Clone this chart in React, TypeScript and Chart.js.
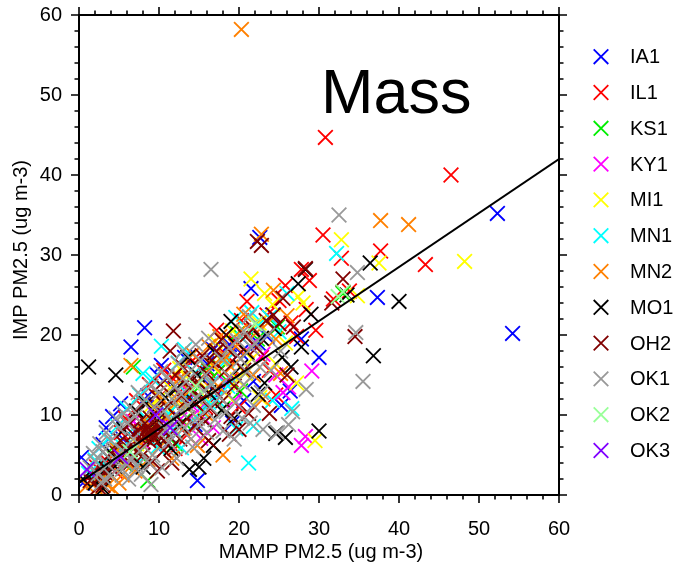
import React, { useEffect, useRef } from "react";
import { Chart, registerables } from "chart.js";

Chart.register(...registerables);

const SITE_LABELS = ["IA1", "IL1", "KS1", "KY1", "MI1", "MN1", "MN2", "MO1", "OH2", "OK1", "OK2", "OK3"];
const SITE_COLORS = ["#0000ff", "#ff0000", "#00ee00", "#ff00ff", "#ffff00", "#00ffff", "#ff8000", "#000000", "#800000", "#999999", "#99ff99", "#8000ff"];

const IA1 = [[52.3,35.2],[54.2,20.2],[37.3,24.7],[30,17.2],[21.5,25.8],[22.6,32.2],[8.2,20.9],[6.5,18.5],[0.3,4.7],[14.8,1.8],[25.3,11.2],[10.3,16.2],[4.2,9.8],[9.8,15],[11.5,13.5],[13.2,17.2],[18.8,18.8],[3,6.3],[2.2,2.8],[5.5,7],[7.5,8.5],[12.2,10],[15.5,14.5],[17.3,12.5],[20.2,17.8],[23.5,19.8],[16.8,18.2],[19.2,9],[6.8,4.8],[9.5,11.2],[24.2,22.5],[14.5,8.8],[21.8,14.2],[0.5,1.5],[11,6.4],[27.8,19.5],[13.8,11.9],[16,16.4],[18.4,14],[12.6,14.6],[8.6,12.4],[5.2,11.4],[3.4,8.4],[20.6,11.8],[26.4,13],[22.4,19]];
const IL1 = [[30.8,44.7],[46.5,40],[43.3,28.8],[37.7,30.5],[30.5,32.5],[32.8,29.6],[31.8,24.5],[27.8,28.2],[25,24.3],[28.4,23.2],[27.2,19.8],[24.6,12.5],[23.5,22.5],[21.8,20.5],[20.3,21.8],[18.5,17.4],[16.2,15.5],[14.2,16.8],[12.5,12.8],[10.8,9.5],[9.2,10.8],[7.8,8],[6.5,6.2],[5.3,7.8],[3.5,4.2],[2.2,3.5],[4.5,3],[8.8,13.8],[11.8,14.5],[13.5,7.5],[15.8,11],[17.8,15.8],[19.5,19.2],[22.8,17.2],[26.5,21.5],[21,24.2],[10,12.2],[1.5,2.5],[33.8,25.5],[28.8,26.8],[12,5.8],[14.6,13.6],[16.8,12.2],[19,14.4],[20,11],[23.8,15.6],[10.6,15.6],[7.2,11.8],[5.8,9.6],[17.2,20.6],[25.8,26.2],[29.6,20.6]];
const KS1 = [[6.8,16],[8.6,1.8],[20.2,13],[11.5,10.5],[4.5,6.2],[14.3,12.8],[17.4,15.4],[9.2,7.5],[2.8,2.2],[13,9.2],[18,10.8],[22.3,19.5],[24.8,21],[16,15.9],[7.4,5.2],[5.8,3.8],[10.5,8.3],[19.8,20.2],[33,25.2],[12,6.4]];
const KY1 = [[27.8,6.2],[29.1,15.5],[28.3,7.3],[24.6,15],[26.2,13.5],[25.5,12.8],[19.4,11.8],[14.8,10.5],[10.4,8.6],[8,6.6],[12.6,9.4],[16.8,8.4],[21.4,18.6],[5.6,5.4],[3.8,3.6],[18.2,14.2],[23,17.6],[13.4,13.2],[15.2,7.1],[6.8,9.2]];
const MI1 = [[48.2,29.2],[32.8,31.9],[21.5,27],[37.5,29],[28,24],[27.2,14],[34.8,24.9],[29.5,6.8],[22.5,21.5],[23.2,25.2],[19.2,20.5],[17.6,17],[15.8,13.4],[13.4,14.8],[12.2,11.6],[10.8,10.2],[9.6,8.9],[8.4,7.6],[7.2,6.4],[6,5.3],[4.6,4.6],[3.4,3],[14.6,9.8],[18.6,12.4],[20.8,15.2],[25.8,19],[11.4,13.4],[16.7,16.1],[24.2,23.8],[9,11.2],[13.6,10.8],[16,12],[17,19.2],[19.8,14.4],[21.6,17],[22.6,12.2],[12.6,15.8],[10.2,12.2],[24.6,16.4],[27.4,24.8]];
const MN1 = [[32.2,30.2],[21.2,4],[10.3,18.6],[26,25.2],[19.6,8.3],[14.5,15.3],[12.4,16.5],[9.2,14.5],[7.6,12.5],[6,10.8],[4.8,8.6],[3.6,7],[2.5,5.8],[2,4.4],[1.2,2.7],[5.5,6],[8.5,9.5],[11.2,10.2],[13.6,12.6],[16.5,14],[18.4,16.8],[20.5,19.5],[22.4,21.2],[23.8,22.2],[25,20.4],[17.2,12],[15.4,10.4],[24.2,11.8],[3,4],[6.8,8.3],[21.6,22.8],[12.8,5.9],[7.6,4.2],[9.8,6],[11.8,8.2],[14,9.2],[16.2,11.6],[18.6,13.6],[19.6,22.2],[21.8,8.6],[26.6,10.8],[8,15.2],[13.2,18.2]];
const MN2 = [[20.3,58.2],[41.2,33.8],[37.7,34.3],[22.8,32.6],[24.3,25.6],[6.5,16.2],[18,5],[2.5,0.5],[3.6,1.2],[4.2,0.8],[1.8,1.6],[5.4,2.5],[3.1,2.2],[6,4.2],[7.8,6.4],[9.5,8],[11,9.6],[12.4,11.8],[13.8,13],[15.2,14.6],[16.8,16.2],[18.4,17.2],[19.6,18.6],[21,18],[22.2,20.3],[23.6,21.5],[24.6,19.5],[17.4,13.6],[15.8,10.2],[13,8.3],[10.2,6.1],[8.6,4.4],[4.8,5.6],[20.2,20.5],[26,22.4],[14.2,17.6],[25.2,15.2],[19,16],[1,1.2],[5,1.5],[7,3],[8.2,9.4],[10.6,11.8],[12.6,14.6],[16.2,18.6],[17.6,19.8],[20.6,22.6],[21.8,15],[23,12],[14.8,6.2],[11.6,4.6]];
const MO1 = [[1.2,16],[4.6,15],[40,24.2],[36.8,17.4],[36.4,29],[30,8],[25.8,7.2],[24.6,7.7],[19,21.7],[28.3,28.2],[13.8,3.2],[15,3.5],[27.8,18.5],[33.5,25],[0.5,2],[2,1.5],[3.4,3.3],[4.5,3.6],[6.2,5.2],[7.2,10.5],[8.4,11.4],[9.4,7.2],[10.8,12.2],[12.2,13.3],[13.6,17.2],[14.8,15],[16.2,12.8],[17.8,10.6],[19.4,9.6],[20.2,16],[22.4,12.6],[23.2,14],[25.4,17.2],[26.5,16],[11.5,5.8],[8,3.5],[21,17.8],[18.4,20],[5.6,8.2],[16.8,6.2],[4,5.2],[9.8,9.4],[12.6,8.8],[14.4,11.6],[17,17.8],[22.8,19.6],[24.4,20.8],[27.4,26.4],[29,22.6],[15.6,4.6],[3,0.8]];
const OH2 = [[22.3,31.7],[28.3,28.3],[34.5,19.8],[33,27],[11.8,20.5],[22.8,31.2],[31.6,24],[26.8,21],[24.3,22.5],[25.5,24.6],[8.5,7.5],[8.8,7.8],[8.2,7.2],[9,8.2],[7.8,7],[8.6,8.6],[9.4,7],[7.4,8],[10,9],[6.6,6.2],[5.8,5.6],[5,4.5],[4,3.4],[3.2,2.8],[2.6,2.2],[2,3],[1.4,1.8],[6.2,8.8],[7,10.4],[8,11.6],[9.6,12.4],[11,11],[12.2,9.8],[13.2,11.6],[14,14.6],[15,14],[16,15.2],[16.6,16.8],[17.2,18],[17.8,19.4],[18.6,18.2],[19.8,17.4],[20.6,15.6],[21.2,10.2],[19,9.8],[16.4,10.8],[14.4,8.6],[12.6,7],[10.6,5.6],[9.2,4.2],[11.6,4],[15.4,12],[13.8,13.4],[12,15],[10.2,13.8],[18.2,15.4],[23.4,21.8],[25,21.4],[7.6,9.2],[8.9,9.6],[9.8,10.6],[10.4,8.2],[11.2,7.4],[7.2,5.4],[6.4,4],[5.2,6.8],[4.4,5.6],[3.6,4.8],[12.8,12.4],[13.6,9.6],[14.6,11.4],[15.8,9.2],[17,13],[18,11.8],[19.4,13.6],[20.8,19.8],[21.6,21],[22.2,18.4],[15.4,17.4],[13,16],[11.4,18],[16.2,6.8],[18.8,7.6],[20,8.2],[23.8,10.2],[26,15],[9.8,3],[3,1.2],[2.4,1],[8,5],[6.8,7.6],[8.3,8],[9.2,7.8],[8.7,6.8],[9.7,8.4],[7.9,7.6],[10.3,7.1]];
const OK1 = [[32.5,35],[34.8,27.8],[35.5,14.2],[34.6,20.3],[16.5,28.2],[9,1.3],[24.8,7.8],[26.7,10.4],[28.4,13.2],[20.6,20.5],[21.3,22.3],[19.8,19.3],[22,19],[13,18],[14.6,18.8],[12.4,16.4],[11,14.8],[10,12.8],[9,13.6],[8,11.6],[7,9.8],[6,9],[5,8.4],[4,6.8],[3,5.4],[2,4.2],[1.4,3.4],[2.8,1.5],[4,2.4],[5.4,3.2],[6.6,4.5],[7.6,5.5],[10.8,8.2],[11.6,9.2],[12.6,10.6],[13.6,11.2],[14.6,12.2],[15.6,13],[16.6,13.8],[17.6,12.2],[18.4,10.4],[19.6,11.6],[20.6,13.8],[21.4,9],[23,8.2],[16,7.8],[14.2,6],[12.2,4.6],[10.4,3.4],[7.8,2.6],[6.2,2],[11.6,12],[13.4,14.2],[15.2,16.8],[17.8,17],[18.8,14.8],[3.6,3.8],[10.6,10.4],[12.8,12.6],[14.8,9.6],[16.4,11],[6.8,7],[5.4,5.6],[9.2,5],[20.2,17],[22.6,16],[2.4,2.6],[3.2,2],[4.6,4.4],[5.8,4],[7.2,3.6],[8.8,4],[11.2,6.6],[12,7.8],[13.2,8.4],[14,7],[15,8.8],[17,9.4],[18,8],[19.4,7],[20.4,9.6],[21.8,11.2],[22.8,12.8],[24,15.6],[25.2,18],[23.6,20],[21,15.4],[18.8,18.4],[16.2,19.6],[15.8,15],[14,15.6],[12,13.6],[10.2,15.4],[9.4,11],[7.4,12.8],[6.4,11],[5.6,10.2],[4.6,9.6],[3.4,7.8],[2.6,6.4],[1.8,5.2],[26.2,8.8],[21.6,18.4]];
const OK2 = [[33,25.4],[32.4,24.8],[22,21.4],[14.6,13.6],[6.4,5.4]];
const OK3 = [[1,3.2],[5.2,4.8],[11.4,8.4],[9.6,10]];

const SITE_DATA = [IA1, IL1, KS1, KY1, MI1, MN1, MN2, MO1, OH2, OK1, OK2, OK3];

const FIT_LINE = [[0, 1.5], [60, 42]];
const TICK_MIN = 0;
const TICK_MAX = 60;
const MAJOR_STEP = 10;
const MINOR_STEP = 2;

const TITLE = "Mass";
const X_TITLE = "MAMP PM2.5 (ug m-3)";
const Y_TITLE = "IMP PM2.5 (ug m-3)";

const FONT = "'Liberation Sans', Arial, sans-serif";

function drawCross(ctx: CanvasRenderingContext2D, x: number, y: number, h: number) {
  ctx.beginPath();
  ctx.moveTo(x - h, y - h);
  ctx.lineTo(x + h, y + h);
  ctx.moveTo(x - h, y + h);
  ctx.lineTo(x + h, y - h);
  ctx.stroke();
}

const decorPlugin = {
  id: "decor",
  afterDraw(chart: any) {
    const ctx: CanvasRenderingContext2D = chart.ctx;
    const { left, right, top, bottom } = chart.chartArea;
    const xs = chart.scales.x;
    const ys = chart.scales.y;
    ctx.save();
    ctx.strokeStyle = "#000";
    ctx.lineWidth = 2;
    ctx.strokeRect(left, top, right - left, bottom - top);
    ctx.lineWidth = 1.6;
    for (let v = TICK_MIN; v <= TICK_MAX + 1e-9; v += MINOR_STEP) {
      const major = Math.abs(v % MAJOR_STEP) < 1e-9;
      const len = major ? 8 : 4.5;
      const px = xs.getPixelForValue(v);
      const py = ys.getPixelForValue(v);
      ctx.beginPath();
      ctx.moveTo(px, bottom);
      ctx.lineTo(px, bottom + len);
      ctx.moveTo(px, top);
      ctx.lineTo(px, top - len);
      ctx.moveTo(left, py);
      ctx.lineTo(left - len, py);
      ctx.moveTo(right, py);
      ctx.lineTo(right + len, py);
      ctx.stroke();
    }
    ctx.fillStyle = "#000";
    ctx.font = `63px ${FONT}`;
    ctx.textAlign = "left";
    ctx.textBaseline = "alphabetic";
    ctx.fillText(TITLE, xs.getPixelForValue(30.25), ys.getPixelForValue(47.7));
    ctx.font = `20px ${FONT}`;
    ctx.textAlign = "center";
    ctx.textBaseline = "middle";
    ctx.fillText(X_TITLE, (left + right) / 2 + 2, 552);
    ctx.save();
    ctx.translate(21, (top + bottom) / 2 - 5);
    ctx.rotate(-Math.PI / 2);
    ctx.fillText(Y_TITLE, 0, 0);
    ctx.restore();
    ctx.font = `20px ${FONT}`;
    ctx.textAlign = "left";
    ctx.textBaseline = "middle";
    ctx.lineWidth = 1.8;
    SITE_LABELS.forEach((lab, i) => {
      const y = 56.7 + i * 35.8;
      ctx.strokeStyle = SITE_COLORS[i];
      drawCross(ctx, 601, y, 7.3);
      ctx.fillStyle = "#000";
      ctx.fillText(lab, 630, y + 1);
    });
    ctx.restore();
  },
};

export default function App() {
  const ref = useRef<HTMLCanvasElement | null>(null);
  useEffect(() => {
    if (!ref.current) return;
    const datasets: any[] = SITE_DATA.map((arr, i) => ({
      type: "scatter",
      label: SITE_LABELS[i],
      data: arr.map(([x, y]) => ({ x, y })),
      pointStyle: "crossRot",
      pointRadius: 10.4,
      pointBorderWidth: 1.8,
      borderColor: SITE_COLORS[i],
      backgroundColor: SITE_COLORS[i],
      order: 100 - i,
    }));
    datasets.push({
      type: "line",
      label: "fit",
      data: FIT_LINE.map(([x, y]) => ({ x, y })),
      borderColor: "#000",
      borderWidth: 2,
      pointRadius: 0,
      fill: false,
      order: 0,
    });
    const chart = new Chart(ref.current, {
      type: "scatter",
      data: { datasets },
      options: {
        responsive: false,
        animation: false,
        layout: { padding: { left: 0, top: 15, right: 115, bottom: 0 } },
        plugins: { legend: { display: false }, tooltip: { enabled: false } },
        scales: {
          x: {
            type: "linear",
            min: TICK_MIN,
            max: TICK_MAX,
            grid: { display: false },
            border: { display: false },
            ticks: { stepSize: MAJOR_STEP, color: "#000", font: { size: 20, family: FONT }, padding: 14, maxRotation: 0 },
            afterFit: (s: any) => { s.height = 72; s.paddingLeft = 0; s.paddingRight = 0; },
          },
          y: {
            type: "linear",
            min: TICK_MIN,
            max: TICK_MAX,
            grid: { display: false },
            border: { display: false },
            ticks: { stepSize: MAJOR_STEP, color: "#000", font: { size: 20, family: FONT }, padding: 9 },
            afterFit: (s: any) => { s.width = 79; s.paddingTop = 0; s.paddingBottom = 0; },
          },
        },
      },
      plugins: [decorPlugin],
    } as any);
    return () => chart.destroy();
  }, []);
  return (
    <div style={{ position: "absolute", left: 0, top: 0, width: 674, height: 567, background: "#fff" }}>
      <canvas ref={ref} width={674} height={567} />
    </div>
  );
}
